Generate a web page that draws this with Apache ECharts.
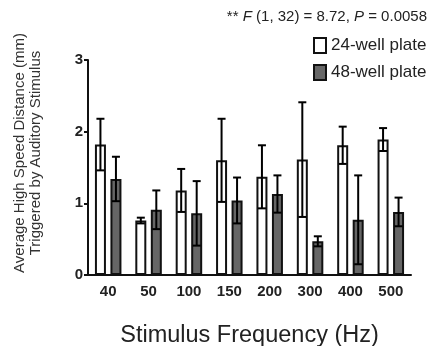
<!DOCTYPE html>
<html><head><meta charset="utf-8">
<script src="https://cdn.jsdelivr.net/npm/echarts@6/dist/echarts.min.js"></script>
<style>html,body{margin:0;padding:0;background:#fff}#c{width:431px;height:346px}</style>
</head><body><div id="c"></div>
<script>
const categories = ['40','50','100','150','200','300','400','500'];
const plate24 = [1.82,0.76,1.18,1.60,1.37,1.61,1.81,1.89];
const plate24Err = [0.36,0.04,0.30,0.58,0.44,0.80,0.26,0.16];
const plate48 = [1.34,0.91,0.86,1.04,1.13,0.47,0.77,0.88];
const plate48Err = [0.31,0.27,0.45,0.32,0.26,0.07,0.62,0.20];
const yTicks = [0,1,2,3];

const BW = 11, GAP = 4.5;
const OFF = (BW + GAP) / 2;
const FONT = 'Liberation Sans, Arial, sans-serif';

function errSeries(name, vals, errs, sign) {
  return {
    type: 'custom', name: name + ' err', z: 5, silent: true,
    data: vals.map((v, i) => [i, v, errs[i]]),
    renderItem: function (params, api) {
      const i = api.value(0), v = api.value(1), e = api.value(2);
      const top = api.coord([i, v + e]);
      const bot = api.coord([i, v - e]);
      const x = top[0] + sign * OFF;
      const cap = 4;
      const st = { stroke: '#000', lineWidth: 2 };
      return { type: 'group', children: [
        { type: 'line', shape: { x1: x, y1: top[1], x2: x, y2: bot[1] }, style: st },
        { type: 'line', shape: { x1: x - cap, y1: top[1], x2: x + cap, y2: top[1] }, style: st },
        { type: 'line', shape: { x1: x - cap, y1: bot[1], x2: x + cap, y2: bot[1] }, style: st }
      ]};
    }
  };
}

const chart = echarts.init(document.getElementById('c'), null, { renderer: 'canvas' });
chart.setOption({
  animation: false,
  textStyle: { fontFamily: FONT },
  grid: { left: 88, right: 20, top: 60, bottom: 71, containLabel: false, outerBoundsMode: 'none' },
  title: {
    text: '** {i|F} (1, 32) = 8.72, {i|P} = 0.0058',
    right: 4, top: 9, padding: 0,
    textStyle: { fontSize: 15, fontWeight: 'normal', color: '#222', fontFamily: FONT,
      rich: { i: { fontStyle: 'italic', fontSize: 15, color: '#222', fontFamily: FONT } } }
  },
  legend: {
    orient: 'vertical', left: 313, top: 37, padding: 0, itemWidth: 12, itemHeight: 15, itemGap: 10,
    icon: 'rect',
    data: ['24-well plate', '48-well plate'],
    textStyle: { fontSize: 17, color: '#222', fontFamily: FONT }
  },
  graphic: [{
    type: 'text', x: 28, y: 153, rotation: Math.PI / 2,
    style: {
      text: 'Average High Speed Distance (mm)\nTriggered by Auditory Stimulus',
      font: '15px ' + FONT, fill: '#333', align: 'center', verticalAlign: 'middle', lineHeight: 16
    }
  }],
  xAxis: {
    type: 'category', data: categories,
    axisLine: { lineStyle: { color: '#111', width: 2 } },
    axisTick: { show: false },
    axisLabel: { fontSize: 15, fontWeight: 'bold', color: '#222', margin: 9, fontFamily: FONT },
    name: 'Stimulus Frequency (Hz)', nameLocation: 'middle', nameGap: 49,
    nameTextStyle: { fontSize: 23.5, color: '#222', fontFamily: FONT }
  },
  yAxis: {
    type: 'value', min: 0, max: 3, interval: 1,
    axisLine: { show: true, lineStyle: { color: '#111', width: 2 } },
    axisTick: { show: true, length: 4, lineStyle: { color: '#111', width: 2 } },
    splitLine: { show: false },
    axisLabel: { fontSize: 15, fontWeight: 'bold', color: '#222', margin: 5, fontFamily: FONT,
      formatter: v => yTicks.includes(v) ? String(v) : '' }
  },
  series: [
    { type: 'bar', name: '24-well plate', data: plate24, barWidth: BW, barGap: (GAP / BW * 100) + '%',
      itemStyle: { color: '#fff', borderColor: '#111', borderWidth: 2 } },
    { type: 'bar', name: '48-well plate', data: plate48, barWidth: BW,
      itemStyle: { color: '#666', borderColor: '#111', borderWidth: 2 } },
    errSeries('24', plate24, plate24Err, -1),
    errSeries('48', plate48, plate48Err, 1)
  ]
});
</script></body></html>
